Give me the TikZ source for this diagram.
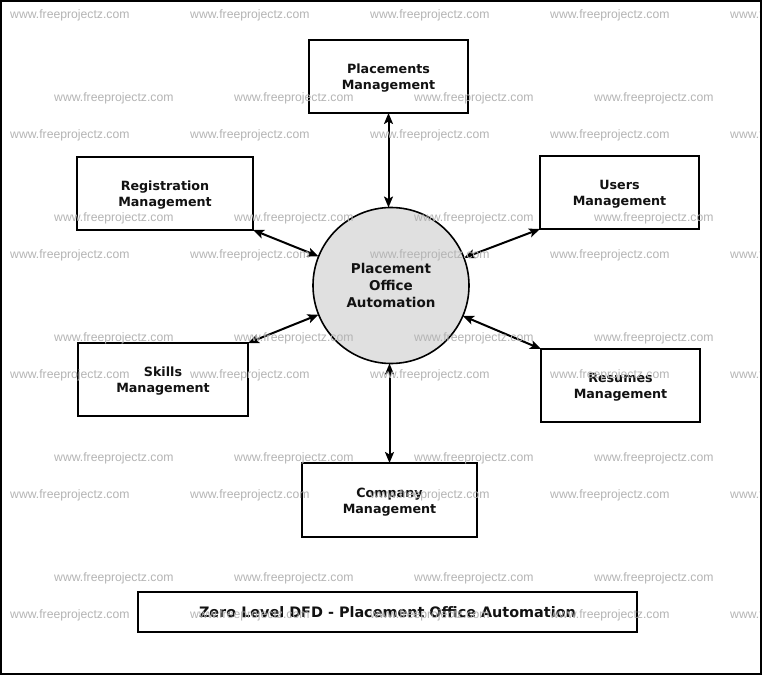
\documentclass[tikz,border=0pt]{standalone}
\usepackage{fontspec}
\setmainfont{DejaVu Sans}
\newfontfamily\wmfont{Liberation Sans}
\usetikzlibrary{arrows.meta}
\definecolor{circfill}{HTML}{E0E0E0}
\definecolor{wmgray}{HTML}{B4B4B4}
\begin{document}
\begin{tikzpicture}[x=1pt,y=-1pt,
  box/.style={draw=black, line width=2pt, fill=white, minimum width=#1, minimum height=73pt,
    inner sep=0pt, outer sep=0pt, align=center, text=black!93, text height=29pt,
    font=\fontsize{12.7}{16}\selectfont\bfseries},
  proc/.style={circle, draw=black, line width=1.6pt, fill=circfill, minimum size=156pt,
    inner sep=0pt, outer sep=0pt, align=center, text=black!93,
    font=\fontsize{13.5}{17}\selectfont\bfseries},
  titlebox/.style={draw=black, line width=2pt, fill=white, minimum width=499pt, minimum height=40pt,
    inner sep=0pt, outer sep=0pt, align=center, text=black!93,
    font=\fontsize{14.4}{17}\selectfont\bfseries},
  flow/.style={line width=2pt, {Stealth[length=11pt,width=9pt,inset=2.5pt]}-{Stealth[length=11pt,width=9pt,inset=2.5pt]}},
  wm/.style={anchor=west, inner sep=0pt, text=wmgray, font=\wmfont\fontsize{12.2}{13}\selectfont},
  frame/.style={draw=black, line width=2pt}
]
\useasboundingbox (0,0) rectangle (764,677);
\fill[white] (0,0) rectangle (764,677);

% process
\node[proc] (po) at (391,285.5) {Placement\\Office\\Automation};

% external entities
\node[box=159pt] (pm) at (388.5,76.5) {Placements\\Management};
\node[box=176pt] (rg) at (165,193.5) {Registration\\Management};
\node[box=159pt] (us) at (619.5,192.5) {Users\\Management};
\node[box=170pt] (sk) at (163,379.5) {Skills\\Management};
\node[box=159pt] (rs) at (620.5,385.5) {Resumes\\Management};
\node[box=175pt, minimum height=74pt] (cm) at (389.5,500) {Company\\Management};

% title
\node[titlebox] (tt) at (387.5,612) {Zero Level DFD - Placement Office Automation};

% flows
\draw[flow] (pm.south) -- (pm.south |- po.north);
\draw[flow] (rg.south east) -- (po);
\draw[flow] (us.south west) -- (po);
\draw[flow] (sk.north east) -- (po);
\draw[flow] (rs.north west) -- (po);
\draw[flow] (cm.north) -- (cm.north |- po.south);

% watermark
\begin{scope}
  \clip (2,2) rectangle (760,673);
  \foreach \yy in {15,135,255,375,495,615}
    \foreach \xx in {10,190,370,550,730}
      \node[wm] (wa-\xx-\yy) at (\xx,\yy) {www.freeprojectz.com};
  \foreach \yy in {98,218,338,458,578}
    \foreach \xx in {54,234,414,594}
      \node[wm] (wb-\xx-\yy) at (\xx,\yy) {www.freeprojectz.com};
\end{scope}

% outer frame
\draw[frame] (1,1) rectangle (761,673.7);
\end{tikzpicture}
\end{document}
